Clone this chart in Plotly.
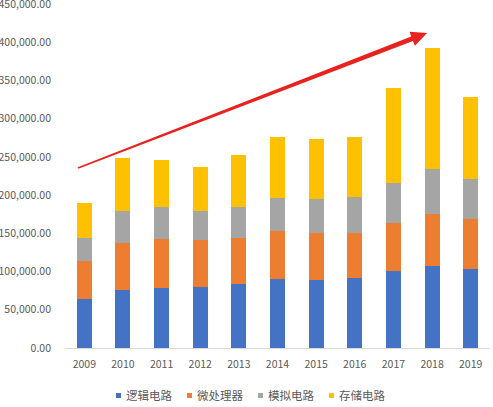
import plotly.graph_objects as go

years = ["2009", "2010", "2011", "2012", "2013", "2014", "2015", "2016", "2017", "2018", "2019"]
logic = [64000, 76000, 78000, 80000, 84000, 90500, 89000, 91000, 101000, 107000, 103000]
micro = [50000, 62000, 65000, 61000, 60000, 62500, 61000, 60000, 63000, 68000, 66000]
analog = [30000, 41000, 41500, 38000, 40000, 43500, 45000, 47000, 52000, 59000, 52000]
memory = [46000, 70000, 62000, 58000, 68000, 79000, 78000, 78000, 124000, 158000, 107000]
names = ["逻辑电路", "微处理器", "模拟电路", "存储电路"]
colors = ["#4472C4", "#ED7D31", "#A5A5A5", "#FFC000"]
yticks = [0, 50000, 100000, 150000, 200000, 250000, 300000, 350000, 400000, 450000]

FONT = "Noto Sans CJK SC, Noto Sans, sans-serif"
fig = go.Figure()
for vals, name, col in zip([logic, micro, analog, memory], names, colors):
    fig.add_trace(go.Bar(x=years, y=vals, name=name, marker=dict(color=col, line=dict(width=0)),
                         showlegend=False))

W, H = 493, 407
L, R, T, B = 65, 3, 4, 59
pw, ph = W - L - R, H - T - B

def P(px, py):
    return (px - L) / pw, (H - B - py) / ph

# red trend arrow (decoration)
pts = [(77.7, 167.3), (411.2, 36.5), (409.6, 31.8), (427.0, 33.0), (414.9, 45.8), (413.0, 41.1), (78.3, 168.7)]
path = "M " + " L ".join("%.4f,%.4f" % P(*p) for p in pts) + " Z"
fig.add_shape(type="path", path=path, xref="paper", yref="paper",
              fillcolor="#E8221F", line=dict(width=0))

# custom legend (small squares + labels)
x0, stride, ly, sq = 116.0, 71.0, 395.5, 5.0
for i, (name, col) in enumerate(zip(names, colors)):
    sx = x0 + i * stride
    ax0, ay0 = P(sx, ly + sq / 2)
    ax1, ay1 = P(sx + sq, ly - sq / 2)
    fig.add_shape(type="rect", xref="paper", yref="paper", x0=ax0, x1=ax1, y0=ay0, y1=ay1,
                  fillcolor=col, line=dict(width=0))
    tx, ty = P(sx + sq + 3, ly)
    fig.add_annotation(text=name, xref="paper", yref="paper", x=tx, y=ty, xanchor="left",
                       yanchor="middle", showarrow=False,
                       font=dict(family=FONT, size=11.5, color="#595959"))

fig.update_layout(
    width=W, height=H,
    margin=dict(l=L, r=R, t=T, b=B),
    barmode="stack", bargap=0.61,
    plot_bgcolor="white", paper_bgcolor="white",
    font=dict(family=FONT, size=11, color="#595959"),
    showlegend=False,
    xaxis=dict(type="category", showgrid=False, showline=True, linecolor="#D9D9D9", linewidth=1,
               ticks="", tickfont=dict(size=10.5, color="#595959"), automargin=False,
               ticklabelstandoff=6),
    yaxis=dict(range=[0, 450000], tickvals=yticks, tickformat=",.2f", showgrid=False,
               zeroline=False, showline=False, ticks="", tickfont=dict(size=10.5, color="#595959"),
               ticklabelstandoff=13, automargin=False, ticklabeloverflow="allow"),
)
fig.write_html("out.html", config={"displayModeBar": False},
               post_script="document.body.style.margin='0';document.body.style.overflow='hidden';")
